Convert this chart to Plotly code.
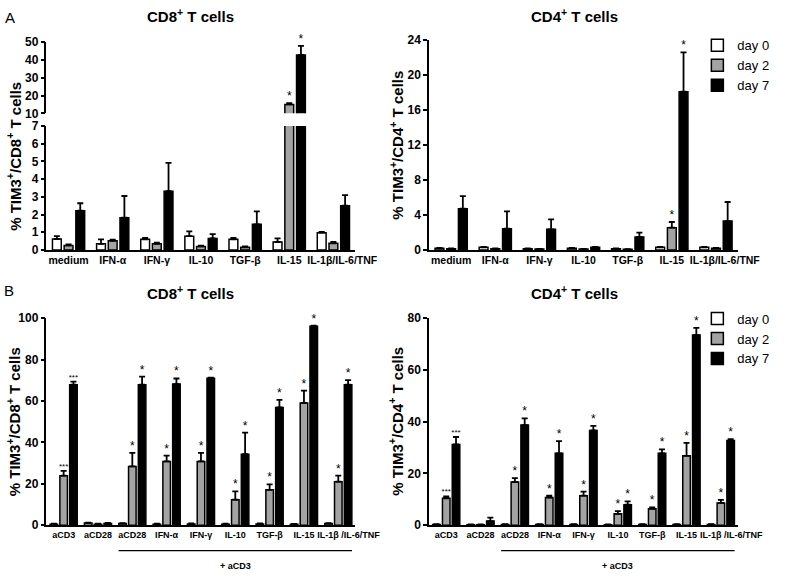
import numpy as np
import plotly.graph_objects as go

# --- data -------------------------------------------------------------
cats_a = ['medium', 'IFN-α', 'IFN-γ', 'IL-10', 'TGF-β', 'IL-15', 'IL-1β/IL-6/TNF']
cats_b = ['aCD3', 'aCD28', 'aCD28', 'IFN-α', 'IFN-γ', 'IL-10', 'TGF-β', 'IL-15', 'IL-1β /IL-6/TNF']
# label positions (the long last label sits a bit right of its group)
lab_pos_a = [0, 1, 2, 3, 4, 5, 6.2]
lab_pos_b = [0, 1, 2, 3, 4, 5, 6, 7, 8.3]
days = ['day 0', 'day 2', 'day 7']

# A, CD8+ : mean and upper error
a8_d0 = [0.62, 0.35, 0.60, 0.78, 0.60, 0.45, 0.98]
a8_d0_err = [0.16, 0.25, 0.08, 0.27, 0.08, 0.20, 0.04]
a8_d2 = [0.26, 0.52, 0.35, 0.20, 0.15, 15.0, 0.38]
a8_d2_err = [0.05, 0.06, 0.07, 0.05, 0.05, 0.8, 0.07]
a8_d7 = [2.22, 1.82, 3.32, 0.65, 1.45, 42.8, 2.50]
a8_d7_err = [0.42, 1.23, 1.60, 0.25, 0.73, 5.1, 0.60]
a8_star_d2 = ['', '', '', '', '', '*', '']
a8_star_d7 = ['', '', '', '', '', '*', '']

# A, CD4+
a4_d0 = [0.20, 0.30, 0.15, 0.20, 0.15, 0.30, 0.30]
a4_d0_err = [0.05, 0.05, 0.03, 0.03, 0.03, 0.05, 0.05]
a4_d2 = [0.15, 0.15, 0.10, 0.10, 0.08, 2.55, 0.20]
a4_d2_err = [0.03, 0.03, 0.02, 0.02, 0.02, 0.65, 0.05]
a4_d7 = [4.72, 2.44, 2.36, 0.30, 1.49, 18.1, 3.31]
a4_d7_err = [1.45, 1.98, 1.14, 0.05, 0.49, 4.5, 2.18]
a4_star_d2 = ['', '', '', '', '', '*', '']
a4_star_d7 = ['', '', '', '', '', '*', '']

# B, CD8+
b8_d0 = [0.5, 1.0, 0.8, 0.5, 0.6, 0.5, 0.6, 0.4, 0.8]
b8_d0_err = [0.2, 0.2, 0.2, 0.2, 0.2, 0.2, 0.2, 0.2, 0.2]
b8_d2 = [23.9, 0.5, 28.4, 30.8, 30.8, 12.3, 17.1, 59.1, 21.0]
b8_d2_err = [2.3, 0.2, 6.5, 2.8, 4.1, 4.0, 2.6, 5.9, 2.9]
b8_d7 = [67.9, 0.8, 67.9, 68.2, 71.0, 34.3, 56.9, 96.1, 67.9]
b8_d7_err = [1.5, 0.3, 3.9, 2.7, 0.3, 10.4, 3.7, 0.4, 2.2]
b8_star_d2 = ['***', '', '*', '*', '*', '*', '*', '*', '*']
b8_star_d7 = ['***', '', '*', '*', '*', '*', '*', '*', '*']

# B, CD4+
b4_d0 = [0.3, 0.2, 0.3, 0.3, 0.3, 0.2, 0.3, 0.3, 0.3]
b4_d0_err = [0.1, 0.1, 0.1, 0.1, 0.1, 0.1, 0.1, 0.1, 0.1]
b4_d2 = [10.4, 0.2, 16.7, 10.7, 11.4, 4.4, 6.3, 26.8, 8.6]
b4_d2_err = [0.7, 0.1, 1.5, 0.7, 1.6, 1.0, 0.6, 5.0, 1.2]
b4_d7 = [31.2, 1.6, 38.7, 27.8, 36.6, 7.9, 27.8, 73.5, 32.7]
b4_d7_err = [2.9, 1.3, 2.6, 4.7, 1.8, 1.3, 1.5, 2.8, 0.6]
b4_star_d2 = ['***', '', '*', '*', '*', '*', '*', '*', '*']
b4_star_d7 = ['***', '', '*', '*', '*', '*', '*', '*', '*']

# --- style ------------------------------------------------------------
FONT = 'Liberation Sans, Arial, sans-serif'
fills = ['white', '#a3a3a3', 'black']
W, H = 795, 579


def px_x(p):
    return p / W


def px_y(p):
    return 1 - p / H


fig = go.Figure()


def add_panel(series, stars, xa, ya_list, star_ya, slot, width, legend=None):
    n = len(series[0][0])
    for k, (vals, errs) in enumerate(series):
        for j, ya in enumerate(ya_list):
            fig.add_trace(go.Bar(
                x=list(range(n)), y=vals,
                offset=(k - 1) * slot - width / 2, width=width,
                marker=dict(color=fills[k], line=dict(color='black', width=1.5)),
                error_y=dict(type='data', symmetric=False, array=errs,
                             arrayminus=[0] * n, color='black',
                             thickness=1.8, width=3),
                name=days[k],
                showlegend=(legend is not None and j == 0),
                legend=legend if legend else 'legend',
                xaxis=xa, yaxis=ya,
            ))
    # significance marks, only where there is one
    for k, st in stars.items():
        vals, errs = series[k]
        idx = [i for i, s in enumerate(st) if s]
        xs = [i + (k - 1) * slot for i in idx]
        ys = [vals[i] + errs[i] for i in idx]
        txt = [st[i] for i in idx]
        fig.add_trace(go.Scatter(
            x=xs, y=ys, text=txt,
            mode='text', textposition='top center',
            textfont=dict(family=FONT, color='black',
                          size=[8 if len(s) > 1 else 12 for s in txt]),
            cliponaxis=False, showlegend=False, hoverinfo='skip',
            xaxis=xa, yaxis=star_ya,
        ))


slot_a, width_a = 0.265, 0.2
slot_b, width_b = 0.285, 0.22

add_panel([(a8_d0, a8_d0_err), (a8_d2, a8_d2_err), (a8_d7, a8_d7_err)],
          {1: a8_star_d2, 2: a8_star_d7}, 'x', ['y', 'y2'], 'y2', slot_a, width_a)
add_panel([(a4_d0, a4_d0_err), (a4_d2, a4_d2_err), (a4_d7, a4_d7_err)],
          {1: a4_star_d2, 2: a4_star_d7}, 'x2', ['y3'], 'y3', slot_a, width_a, legend='legend')
add_panel([(b8_d0, b8_d0_err), (b8_d2, b8_d2_err), (b8_d7, b8_d7_err)],
          {1: b8_star_d2, 2: b8_star_d7}, 'x3', ['y4'], 'y4', slot_b, width_b)
add_panel([(b4_d0, b4_d0_err), (b4_d2, b4_d2_err), (b4_d7, b4_d7_err)],
          {1: b4_star_d2, 2: b4_star_d7}, 'x4', ['y5'], 'y5', slot_b, width_b, legend='legend2')

xdom_l = [px_x(48), px_x(367)]
xdom_r = [px_x(443), px_x(762)]

xcommon = dict(showgrid=False, zeroline=False, showline=True, linecolor='black',
               linewidth=1.5, ticks='', tickangle=0)
ycommon = dict(showgrid=False, zeroline=False, showline=True, linecolor='black',
               linewidth=1.5, ticks='outside', ticklen=4, tickwidth=1.5,
               tickcolor='black',
               tickfont=dict(family=FONT, size=12, color='black', weight='bold'))
fa = dict(family=FONT, size=10.5, color='black', weight='bold')
fb = dict(family=FONT, size=9, color='black', weight='bold')

fig.update_layout(
    width=W, height=H, margin=dict(l=0, r=0, t=0, b=0),
    paper_bgcolor='white', plot_bgcolor='white',
    barmode='overlay',
    xaxis=dict(xcommon, domain=xdom_l, anchor='y', range=[-0.5, 6.5],
               tickvals=lab_pos_a, ticktext=cats_a, tickfont=fa),
    yaxis=dict(ycommon, domain=[px_y(249), px_y(122)], anchor='x', range=[0, 7], dtick=1),
    yaxis2=dict(ycommon, domain=[px_y(109), px_y(36)], anchor='x', range=[10, 50],
                tickvals=[10, 20, 30, 40, 50]),
    xaxis2=dict(xcommon, domain=xdom_r, anchor='y3', range=[-0.5, 6.5],
                tickvals=lab_pos_a, ticktext=cats_a, tickfont=fa),
    yaxis3=dict(ycommon, domain=[px_y(249), px_y(34)], anchor='x2', range=[0, 24], dtick=4),
    xaxis3=dict(xcommon, domain=xdom_l, anchor='y4', range=[-0.5, 8.5],
                tickvals=lab_pos_b, ticktext=cats_b, tickfont=fb),
    yaxis4=dict(ycommon, domain=[px_y(531), px_y(319)], anchor='x3', range=[0, 100], dtick=20),
    xaxis4=dict(xcommon, domain=xdom_r, anchor='y5', range=[-0.5, 8.5],
                tickvals=lab_pos_b, ticktext=cats_b, tickfont=fb),
    yaxis5=dict(ycommon, domain=[px_y(531), px_y(319)], anchor='x4', range=[0, 80], dtick=20),
    legend=dict(x=px_x(720), y=px_y(24), xanchor='left', yanchor='top',
                font=dict(family=FONT, size=13, color='black'),
                bgcolor='rgba(0,0,0,0)', tracegroupgap=0, itemwidth=30),
    legend2=dict(x=px_x(720), y=px_y(304), xanchor='left', yanchor='top',
                 font=dict(family=FONT, size=13, color='black'),
                 bgcolor='rgba(0,0,0,0)', tracegroupgap=0, itemwidth=30),
)

# "+ aCD3" bracket under panel B
for xa in ['x3', 'x4']:
    fig.add_shape(type='line', xref=xa, yref='paper', x0=1.6, x1=8.4,
                  y0=px_y(557), y1=px_y(557), line=dict(color='black', width=1.2))
    fig.add_annotation(xref=xa, yref='paper', x=5, y=px_y(573), text='+ aCD3',
                       xanchor='center', yanchor='middle', showarrow=False,
                       font=dict(family=FONT, size=9, color='black', weight='bold'))

titles = [('CD8<sup>+</sup> T cells', 197, 9), ('CD4<sup>+</sup> T cells', 593, 9),
          ('CD8<sup>+</sup> T cells', 197, 293), ('CD4<sup>+</sup> T cells', 593, 293)]
for txt, x, y in titles:
    fig.add_annotation(xref='paper', yref='paper', x=px_x(x), y=px_y(y), text=txt,
                       xanchor='center', yanchor='middle', showarrow=False,
                       font=dict(family=FONT, size=15, color='black', weight='bold'))

ytitles = [('% TIM3<sup>+</sup>/CD8<sup>+</sup> T cells', 14, 153),
           ('% TIM3<sup>+</sup>/CD4<sup>+</sup> T cells', 409, 142),
           ('% TIM3<sup>+</sup>/CD8<sup>+</sup> T cells', 14, 425),
           ('% TIM3<sup>+</sup>/CD4<sup>+</sup> T cells', 409, 425)]
for txt, x, y in ytitles:
    fig.add_annotation(xref='paper', yref='paper', x=px_x(x), y=px_y(y), text=txt,
                       textangle=-90, xanchor='center', yanchor='middle', showarrow=False,
                       font=dict(family=FONT, size=15, color='black', weight='bold'))

for txt, x, y in [('A', 10, 11), ('B', 9, 291)]:
    fig.add_annotation(xref='paper', yref='paper', x=px_x(x), y=px_y(y), text=txt,
                       xanchor='center', yanchor='middle', showarrow=False,
                       font=dict(family=FONT, size=15, color='black'))

# the page's default body margin would push the figure 8px down and right
fig.write_html('out.html', config={'displayModeBar': False},
               post_script="document.body.style.margin='0';")
